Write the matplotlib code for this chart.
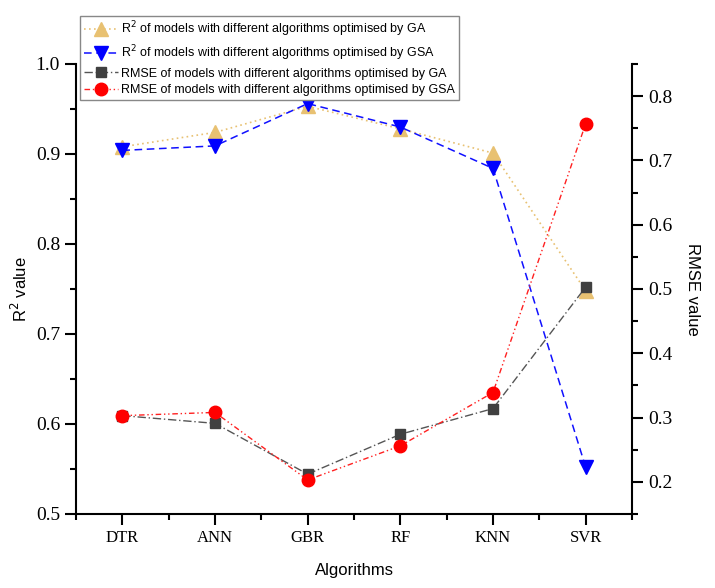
import matplotlib
matplotlib.use('Agg')
import matplotlib.pyplot as plt
from matplotlib.ticker import MultipleLocator, FixedLocator

# 数据
algorithms = ['DTR', 'ANN', 'GBR', 'RF', 'KNN', 'SVR']
r2_ga = [0.908, 0.924, 0.953, 0.928, 0.901, 0.748]
r2_gsa = [0.904, 0.909, 0.956, 0.930, 0.884, 0.552]
rmse_ga = [0.303, 0.291, 0.212, 0.274, 0.314, 0.503]
rmse_gsa = [0.303, 0.308, 0.203, 0.256, 0.339, 0.757]

labels = ['R$^2$ of models with different algorithms optimised by GA',
          'R$^2$ of models with different algorithms optimised by GSA',
          'RMSE of models with different algorithms optimised by GA',
          'RMSE of models with different algorithms optimised by GSA']

sans = 'Liberation Sans'
serif = 'Liberation Serif'

fig = plt.figure(figsize=(7.15, 5.88), dpi=100)
ax = fig.add_axes([76 / 715, 1 - 514 / 588, (632 - 76) / 715, (514 - 64) / 588])
ax2 = ax.twinx()

x = list(range(1, len(algorithms) + 1))

# R2 曲线
l1, = ax.plot(x, r2_ga, linestyle=(0, (1, 2)), color='#e8c172', lw=1.2,
              marker='^', ms=10, mfc='#e8c172', mec='#e8c172')
l2, = ax.plot(x, r2_gsa, linestyle=(0, (5, 3)), color='#1010ff', lw=1.1,
              marker='v', ms=10, mfc='#0000ff', mec='#0000ff')

# RMSE 曲线
l3, = ax2.plot(x, rmse_ga, linestyle=(0, (6, 2, 1, 2)), color='#555555', lw=1.0,
               marker='s', ms=7.5, mfc='#404040', mec='#404040')
l4, = ax2.plot(x, rmse_gsa, linestyle=(0, (4, 2, 1, 2, 1, 2)), color='#ff2020', lw=1.0,
               marker='o', ms=9, mfc='#ff0000', mec='#ff0000')

ax.set_xlim(0.5, 6.5)
ax.set_ylim(0.5, 1.0)
ax2.set_ylim(0.15, 0.85)

ax.xaxis.set_major_locator(FixedLocator(x))
ax.xaxis.set_minor_locator(FixedLocator([v + 0.5 for v in range(0, 7)]))
ax.set_xticklabels(algorithms, fontfamily=serif, fontsize=12)

ax.yaxis.set_minor_locator(MultipleLocator(0.05))
ax2.yaxis.set_minor_locator(FixedLocator([0.15, 0.25, 0.35, 0.45, 0.55, 0.65, 0.75, 0.85]))

ax.set_yticks([0.5, 0.6, 0.7, 0.8, 0.9, 1.0])
ax.set_yticklabels(['0.5', '0.6', '0.7', '0.8', '0.9', '1.0'], fontfamily=serif, fontsize=14)
ax2.set_yticks([0.2, 0.3, 0.4, 0.5, 0.6, 0.7, 0.8])
ax2.set_yticklabels(['0.2', '0.3', '0.4', '0.5', '0.6', '0.7', '0.8'], fontfamily=serif, fontsize=14)

for a in (ax, ax2):
    a.spines['top'].set_visible(False)
    for s in a.spines.values():
        s.set_linewidth(1.5)
    a.tick_params(which='major', direction='out', length=8, width=1.5)
    a.tick_params(which='minor', direction='out', length=4, width=1.5)
ax.spines['right'].set_visible(False)
ax2.spines['left'].set_visible(False)
ax2.spines['bottom'].set_visible(False)

ax.set_xlabel('Algorithms', fontfamily=sans, fontsize=12, labelpad=12)
ax.set_ylabel('R$^2$ value', fontfamily=sans, fontsize=12, labelpad=4)
ax2.set_ylabel('RMSE value', fontfamily=sans, fontsize=12, rotation=-90, labelpad=20)

leg = ax2.legend([l1, l2, l3, l4], labels, loc='upper left',
                 bbox_to_anchor=(80 / 715, 1 - 16 / 588), bbox_transform=fig.transFigure,
                 prop={'family': sans, 'size': 9}, frameon=True, fancybox=False,
                 edgecolor='#888888', framealpha=1, borderpad=0.3, labelspacing=0.35,
                 handlelength=2.7, handletextpad=0.3, borderaxespad=0)
leg.get_frame().set_linewidth(1.0)

fig.savefig('out.png', dpi=100)
